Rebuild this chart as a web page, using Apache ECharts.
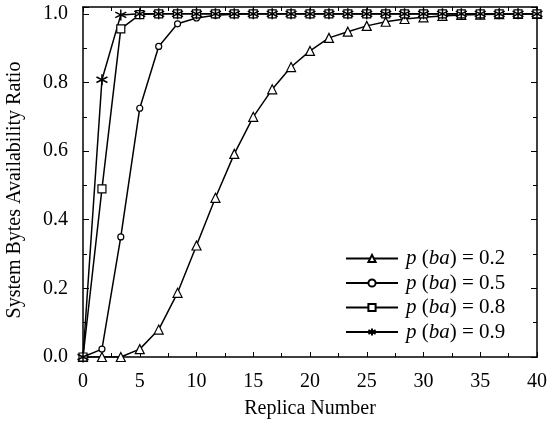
<!DOCTYPE html>
<html>
<head>
<meta charset="utf-8">
<script src="https://cdn.jsdelivr.net/npm/echarts@6/dist/echarts.min.js"></script>
<style>
  html, body { margin: 0; padding: 0; background: #fff; }
  #chart { width: 551px; height: 427px; }
</style>
</head>
<body>
<div id="chart"></div>
<script>
// replica numbers (x positions of the markers)
var replicas = [0, 1.67, 3.33, 5, 6.67, 8.33, 10, 11.67, 13.33, 15, 16.67, 18.33, 20,
  21.67, 23.33, 25, 26.67, 28.33, 30, 31.67, 33.33, 35, 36.67, 38.33, 40];

var pLabels = ['0.2', '0.5', '0.8', '0.9'];

var ratio02 = [0, 0, 0, 0.023, 0.08, 0.187, 0.325, 0.464, 0.592, 0.70, 0.78, 0.845, 0.892,
  0.93, 0.948, 0.965, 0.977, 0.985, 0.99, 0.994, 0.997, 0.998, 0.999, 1.0, 1.0];
var ratio05 = [0, 0.023, 0.35, 0.725, 0.905, 0.971, 0.988, 0.996, 0.999, 1, 1, 1, 1,
  1, 1, 1, 1, 1, 1, 1, 1, 1, 1, 1, 1];
var ratio08 = [0, 0.49, 0.956, 0.998, 1, 1, 1, 1, 1, 1, 1, 1, 1,
  1, 1, 1, 1, 1, 1, 1, 1, 1, 1, 1, 1];
var ratio09 = [0, 0.808, 0.997, 1, 1, 1, 1, 1, 1, 1, 1, 1, 1,
  1, 1, 1, 1, 1, 1, 1, 1, 1, 1, 1, 1];

var font = "'Liberation Serif', 'Times New Roman', serif";
var asterisk = 'path://M5,0L5,10M0.7,2.5L9.3,7.5M0.7,7.5L9.3,2.5';

function pairs (ys) {
  return replicas.map(function (x, i) { return [x, ys[i]] })
}

function makeSeries (idx, ys, symbol, size) {
  return {
    name: 'p (ba) = ' + pLabels[idx],
    type: 'line',
    data: pairs(ys),
    symbol: symbol,
    symbolSize: size,
    showAllSymbol: true,
    lineStyle: { color: '#000', width: 1.5 },
    itemStyle: {
      color: symbol === asterisk ? 'rgba(0,0,0,0)' : '#fff',
      borderColor: '#000',
      borderWidth: symbol === asterisk ? 1.5 : 1.2
    },
    animation: false
  }
}

// axis pieces shared by bottom/top and left/right
function xAxisBase (pos, labels) {
  return {
    type: 'value', position: pos, min: 0, max: 40, interval: 5,
    axisLine: { show: true, onZero: false, lineStyle: { color: '#000', width: 1.5 } },
    axisTick: { show: true, inside: true, length: 5, lineStyle: { color: '#000' } },
    minorTick: { show: true, splitNumber: 2, length: 4, lineStyle: { color: '#000' } },
    splitLine: { show: false },
    axisLabel: { show: labels, color: '#000', fontFamily: font, fontSize: 20, margin: 15 }
  }
}
function yAxisBase (pos, labels) {
  return {
    type: 'value', position: pos, min: 0, max: 1.02, interval: 0.2,
    axisLine: { show: true, onZero: false, lineStyle: { color: '#000', width: 1.5 } },
    axisTick: { show: true, inside: true, length: 6, lineStyle: { color: '#000' } },
    minorTick: { show: true, splitNumber: 2, length: 4, lineStyle: { color: '#000' } },
    splitLine: { show: false },
    axisLabel: {
      show: labels, color: '#000', fontFamily: font, fontSize: 20, margin: 15,
      formatter: function (v) { return v > 1.001 ? '' : v.toFixed(1) }
    }
  }
}

var chart = echarts.init(document.getElementById('chart'))

var bottomX = xAxisBase('bottom', true)
bottomX.name = 'Replica Number'
bottomX.nameLocation = 'middle'
bottomX.nameGap = 42
bottomX.nameTextStyle = { color: '#000', fontFamily: font, fontSize: 20 }

var leftY = yAxisBase('left', true)
leftY.name = 'System Bytes Availability Ratio'
leftY.nameLocation = 'middle'
leftY.nameGap = 58
leftY.nameTextStyle = { color: '#000', fontFamily: font, fontSize: 20, padding: [0, 16, 0, 0] }

var option = {
  backgroundColor: '#fff',
  grid: { left: 83, right: 14, top: 7, bottom: 70, outerBoundsMode: 'none', containLabel: false },
  xAxis: [bottomX, xAxisBase('top', false)],
  yAxis: [leftY, yAxisBase('right', false)],
  legend: {
    orient: 'vertical',
    left: 345,
    top: 248,
    padding: 0,
    itemWidth: 52,
    itemHeight: 9,
    itemGap: 3.5,
    textStyle: {
      color: '#000', fontFamily: font, fontSize: 21, lineHeight: 20,
      padding: [0, 0, 0, 3],
      rich: { i: { fontStyle: 'italic', fontFamily: font, fontSize: 21, lineHeight: 20 } }
    },
    formatter: function (name) {
      return '{i|p} ({i|ba}) = ' + name.split('= ')[1]
    }
  },
  series: [
    makeSeries(0, ratio02, 'triangle', 9),
    makeSeries(1, ratio05, 'circle', 6),
    makeSeries(2, ratio08, 'rect', 8),
    makeSeries(3, ratio09, asterisk, 11)
  ]
}

chart.setOption(option)
</script>
</body>
</html>
